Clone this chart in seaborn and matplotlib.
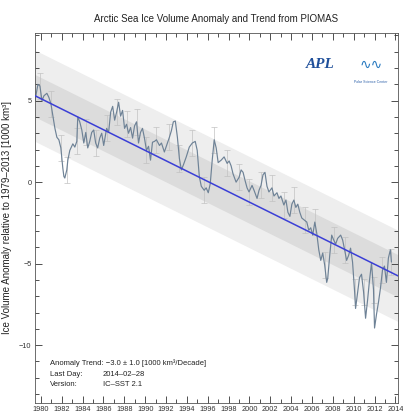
import numpy as np
import pandas as pd
import seaborn as sns
import matplotlib.pyplot as plt
from matplotlib.ticker import MultipleLocator

# --- DATA ---
years = [
    1979.43, 1979.71, 1979.90, 1980.10, 1980.29, 1980.57, 1980.76, 1980.96, 1981.15, 1981.34,
    1981.53, 1981.72, 1981.91, 1982.01, 1982.10, 1982.20, 1982.29, 1982.48, 1982.58, 1982.77,
    1983.06, 1983.25, 1983.44, 1983.53, 1983.72, 1983.92, 1984.11, 1984.30, 1984.49, 1984.68,
    1984.87, 1985.06, 1985.25, 1985.44, 1985.64, 1985.83, 1986.02, 1986.30, 1986.49, 1986.69,
    1986.88, 1987.07, 1987.26, 1987.45, 1987.64, 1987.83, 1988.02, 1988.21, 1988.40, 1988.60,
    1988.79, 1988.98, 1989.17, 1989.36, 1989.55, 1989.74, 1989.93, 1990.12, 1990.32, 1990.51,
    1990.70, 1990.89, 1991.08, 1991.37, 1991.56, 1991.84, 1992.03, 1992.32, 1992.51, 1992.70,
    1992.89, 1993.09, 1993.28, 1993.47, 1993.66, 1993.94, 1994.23, 1994.52, 1994.80, 1994.99,
    1995.19, 1995.38, 1995.66, 1995.85, 1996.05, 1996.24, 1996.43, 1996.62, 1996.81, 1997.00,
    1997.29, 1997.57, 1997.86, 1998.05, 1998.24, 1998.43, 1998.72, 1999.01, 1999.20, 1999.39,
    1999.58, 1999.77, 1999.96, 2000.25, 2000.44, 2000.73, 2000.92, 2001.11, 2001.30, 2001.49,
    2001.68, 2001.87, 2002.16, 2002.35, 2002.64, 2002.83, 2003.02, 2003.30, 2003.50, 2003.69,
    2003.88, 2004.07, 2004.26, 2004.45, 2004.64, 2004.83, 2005.02, 2005.31, 2005.50, 2005.69,
    2005.88, 2006.07, 2006.27, 2006.46, 2006.65, 2006.84, 2007.03, 2007.22, 2007.41, 2007.51,
    2007.70, 2007.89, 2008.08, 2008.27, 2008.46, 2008.75, 2008.94, 2009.13, 2009.32, 2009.51,
    2009.70, 2009.89, 2010.09, 2010.18, 2010.37, 2010.56, 2010.75, 2010.95, 2011.14, 2011.33,
    2011.52, 2011.71, 2011.90, 2012.00, 2012.19, 2012.38, 2012.57, 2012.76, 2012.95, 2013.14,
    2013.33, 2013.52, 2013.62,
]
anomaly = [
    5.0, 6.0, 5.9, 5.0, 5.3, 5.45, 5.2, 4.8, 4.05, 3.3,
    2.75, 2.6, 2.1, 1.45, 0.85, 0.35, 0.25, 0.75, 1.35, 1.95,
    2.35, 2.15, 2.5, 4.0, 3.7, 3.2, 2.4, 3.05, 2.1, 2.5,
    3.05, 3.2, 2.4, 2.1, 2.7, 3.0, 2.25, 3.3, 3.05, 4.3,
    4.65, 3.8, 4.3, 4.9, 4.05, 4.4, 3.3, 3.55, 3.0, 3.35,
    2.7, 3.45, 3.7, 2.4, 3.05, 3.3, 2.7, 1.95, 2.2, 1.35,
    2.45, 2.5, 2.6, 2.25, 2.4, 1.85, 2.2, 2.75, 3.15, 3.7,
    3.75, 2.75, 1.45, 0.75, 1.05, 1.55, 2.15, 2.4, 2.5, 1.95,
    0.35, -0.25, -0.5, -0.35, -0.65, -0.1, 1.35, 2.6, 2.1, 1.2,
    1.35, 1.55, 1.15, 1.3, 1.0, 0.5, 0.0, 0.3, 0.75, 0.6,
    0.1, -0.35, -0.6, -0.2, -0.5, -1.0, -0.5, -0.2, 0.45, 0.6,
    -0.25, -0.6, -0.35, -0.85, -0.65, -1.0, -0.85, -1.4, -1.1, -1.85,
    -2.1, -1.35, -1.1, -1.55, -1.35, -1.85, -2.2, -2.35, -2.45, -2.95,
    -2.8, -3.25, -2.45, -3.15, -4.15, -4.8, -4.35, -5.1, -6.15, -5.9,
    -4.5, -3.25, -3.55, -3.8, -3.45, -3.25, -3.55, -4.15, -4.8, -4.5,
    -4.05, -4.9, -6.75, -7.75, -6.8, -5.85, -5.65, -6.75, -8.35, -7.25,
    -6.0, -4.95, -6.6, -8.95, -8.1, -7.35, -6.5, -5.4, -5.15, -6.15,
    -4.65, -4.15, -4.9,
]
error = 0.8  # half length of the grey error bars [1000 km^3]

trend_years = [1979.43, 2014.25]
trend_vals = [5.3, -5.75]
band_inner = 1.3
band_outer = 2.8

year_ticks = list(range(1980, 2015, 2))

# --- STYLE ---
sns.set_style("ticks")
FONT = ['Liberation Sans Narrow', 'Liberation Sans', 'DejaVu Sans']
plt.rcParams['font.family'] = FONT

df = pd.DataFrame({"year": years, "anomaly": anomaly})
trend = pd.DataFrame({"year": trend_years, "value": trend_vals})

fig = plt.figure(figsize=(4.03, 4.16), dpi=100)
ax = fig.add_axes([35 / 403, 13 / 416, 363 / 403, 370 / 416])

# confidence bands around the trend
ax.fill_between(trend["year"], trend["value"] - band_outer, trend["value"] + band_outer,
                color="#eeeeee", lw=0, zorder=0)
ax.fill_between(trend["year"], trend["value"] - band_inner, trend["value"] + band_inner,
                color="#dcdcdc", lw=0, zorder=0)

# error bars, roughly once a year
eb = df.iloc[2::5]
ax.errorbar(eb["year"], eb["anomaly"], yerr=error, fmt="none", ecolor="#c2c2c2",
            elinewidth=0.5, capsize=2, capthick=0.5, zorder=1)

sns.lineplot(data=df, x="year", y="anomaly", ax=ax, color="#6e8296", lw=0.85,
             sort=False, estimator=None, zorder=2)
sns.lineplot(data=trend, x="year", y="value", ax=ax, color="#3b3fd6", lw=1.1, zorder=3)

ax.set_xlim(1979.43, 2014.25)
ax.set_ylim(-13.55, 9.15)
ax.set_xticks(year_ticks)
ax.set_xticklabels([str(y) for y in year_ticks])
ax.xaxis.set_minor_locator(MultipleLocator(1))
ax.yaxis.set_major_locator(MultipleLocator(5))
ax.yaxis.set_minor_locator(MultipleLocator(1))
ax.tick_params(which="both", direction="in", top=True, right=True, labelsize=5.3,
               width=0.6, pad=2.5, colors="#333333")
ax.tick_params(which="major", length=5)
ax.tick_params(which="minor", length=3)
for s in ax.spines.values():
    s.set_linewidth(0.6)
    s.set_color("#555555")

ax.set_xlabel("")
ax.set_ylabel("Ice Volume Anomaly relative to 1979\u20132013 [1000 km\u00b3]", fontsize=7,
              labelpad=5, color="#222222")
ax.set_title("Arctic Sea Ice Volume Anomaly and Trend from PIOMAS", fontsize=7,
             pad=8, color="#222222")

# info block
txt = dict(transform=ax.transAxes, fontsize=5.5, color="#222222", va="center")
ax.text(0.041, 0.108, "Anomaly Trend: \u22123.0 \u00b1 1.0 [1000 km\u00b3/Decade]", **txt)
ax.text(0.041, 0.078, "Last Day:", **txt)
ax.text(0.187, 0.078, "2014\u201302\u201328", **txt)
ax.text(0.041, 0.050, "Version:", **txt)
ax.text(0.187, 0.050, "IC\u2013SST 2.1", **txt)

# logos (text stand-ins)
ax.text(0.785, 0.915, "APL", transform=ax.transAxes, fontsize=11, color="#1f4f9a",
        fontweight="bold", fontstyle="italic", ha="center", va="center",
        family=['Liberation Serif', 'DejaVu Serif'])
ax.text(0.925, 0.915, "\u223f\u223f", transform=ax.transAxes, fontsize=10, color="#2a7ac0",
        ha="center", va="center", family=['DejaVu Sans'])
ax.text(0.925, 0.868, "Polar Science Center", transform=ax.transAxes, fontsize=2.5,
        color="#2a5ea8", ha="center", va="center")

fig.savefig("out.png", dpi=100)
